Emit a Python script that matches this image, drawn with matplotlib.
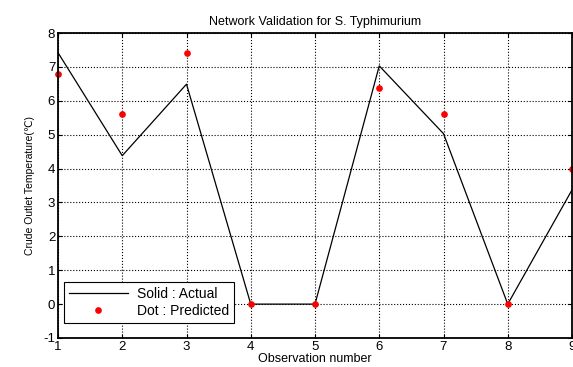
import matplotlib
matplotlib.use("Agg")
import matplotlib.pyplot as plt

plt.rcParams['font.family'] = ['Liberation Sans', 'DejaVu Sans']
plt.rcParams['axes.unicode_minus'] = False

obs = [1, 2, 3, 4, 5, 6, 7, 8, 9]
actual = [7.42, 4.38, 6.49, 0.0, 0.0, 7.03, 5.03, 0.0, 3.37]
predicted = [6.8, 5.62, 7.4, 0.0, 0.0, 6.38, 5.62, 0.0, 4.0]
xticks = [1, 2, 3, 4, 5, 6, 7, 8, 9]
yticks = [-1, 0, 1, 2, 3, 4, 5, 6, 7, 8]

fig = plt.figure(figsize=(5.73, 3.67), dpi=100)
ax = fig.add_axes([58/573, 1-338/367, (572-58)/573, (338-33)/367])

ax.plot(obs, actual, color='black', lw=0.9, label='Solid : Actual')
ax.plot(obs, predicted, linestyle='none', marker='o', ms=3.8, color='red',
        label='Dot : Predicted', clip_on=False)

ax.set_xlim(1, 9)
ax.set_ylim(-1, 8)
ax.set_xticks(xticks)
ax.set_yticks(yticks)
ax.grid(True, color='black', linestyle=':', lw=0.8)
ax.tick_params(direction='in', top=True, right=True, labelsize=9.5, length=3, pad=2)
for s in ax.spines.values():
    s.set_linewidth(1.3)

ax.set_title('Network Validation for S. Typhimurium', fontsize=9, pad=6)
ax.set_xlabel('Observation number', fontsize=9, labelpad=0)
ax.set_ylabel('Crude Outlet Temperature(\u2103)', fontsize=7.5, labelpad=6)

leg = ax.legend(loc='lower left', bbox_to_anchor=(0.011, 0.05), fontsize=10,
                handlelength=4.3, fancybox=False, framealpha=1, edgecolor='black',
                borderpad=0.35, labelspacing=0.2, borderaxespad=0, handletextpad=0.6)
leg.get_frame().set_linewidth(0.8)

fig.savefig('out.png', dpi=100)
